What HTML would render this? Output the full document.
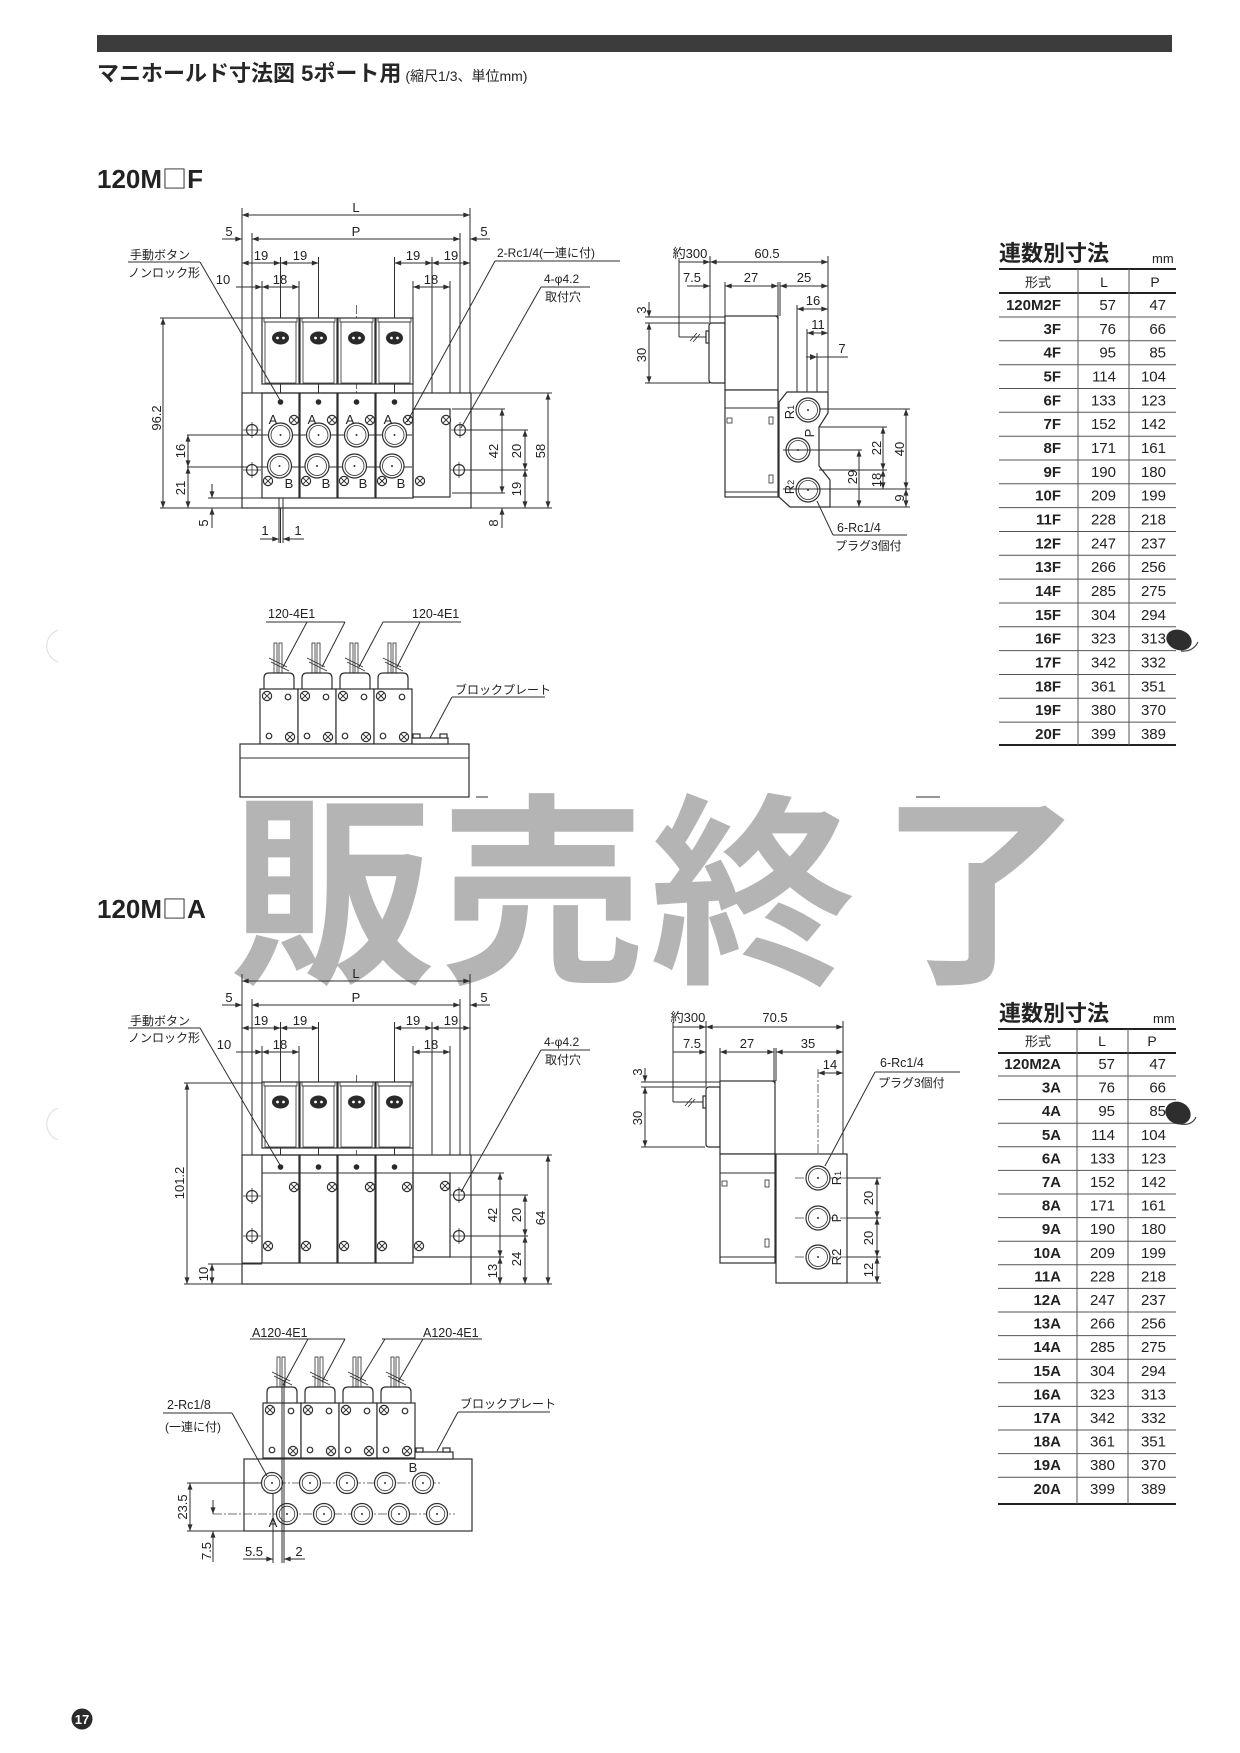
<!DOCTYPE html>
<html><head><meta charset="utf-8">
<style>
html,body{margin:0;padding:0;background:#fff}
svg{display:block}
.l{stroke:#2e2e2e;stroke-width:1;fill:none}
.t{stroke:#2e2e2e;stroke-width:0.8;fill:none}
.m{stroke:#2e2e2e;stroke-width:1;fill:none;marker-start:url(#ar);marker-end:url(#ar)}
.me{stroke:#2e2e2e;stroke-width:1;fill:none;marker-end:url(#ar)}
.s{stroke:#2e2e2e;stroke-width:1.2;fill:#fff}
.sn{stroke:#2e2e2e;stroke-width:1.2;fill:none}
.cl{stroke:#444;stroke-width:0.8;stroke-dasharray:9 2 2 2;fill:none}
.n{font-family:"Liberation Sans",sans-serif;font-size:13px;fill:#222}
.j{font-family:"Liberation Sans","Noto Sans CJK JP",sans-serif;font-size:12px;fill:#222}
.c{text-anchor:middle}
.r{text-anchor:end}
.tb{font-family:"Liberation Sans",sans-serif;font-size:15px;fill:#222}
.tbb{font-family:"Liberation Sans",sans-serif;font-size:15px;font-weight:bold;fill:#222;text-anchor:end}
.rl{stroke:#555;stroke-width:1}
.hl{stroke:#222;stroke-width:2}
.wm{font-family:"Noto Sans CJK JP","Noto Sans CJK SC",sans-serif;font-weight:700;font-size:205px;fill:#b4b4b4}
</style></head><body>
<svg width="1240" height="1753" viewBox="0 0 1240 1753" xmlns="http://www.w3.org/2000/svg">
<defs>
<marker id="ar" viewBox="0 0 8 6" refX="8" refY="3" markerWidth="7" markerHeight="5" markerUnits="userSpaceOnUse" orient="auto-start-reverse"><path d="M0,0L8,3L0,6z" fill="#2e2e2e"/></marker>
<g id="x"><circle r="4.6" class="s"/><path d="M-3.2,-3.2L3.2,3.2M-3.2,3.2L3.2,-3.2" class="l"/></g>
<g id="o"><circle r="2.8" class="s"/></g>
<g id="h"><circle r="5.5" class="s"/><path d="M-9,0H9M0,-8V8" class="t"/></g>
<g id="pa"><circle r="12" class="s"/><circle r="9.5" class="t"/><circle r="1" fill="#333"/></g>
<g id="pb"><circle r="10.5" class="s"/><circle r="7.8" class="t"/><circle r="1" fill="#333"/></g>
<g id="vh">
<rect x="0" y="0" width="37" height="66" class="s"/>
<rect x="2" y="0" width="33" height="4" class="t"/>
<rect x="3" y="4" width="31" height="61" class="t"/>
<ellipse cx="18.5" cy="20" rx="8.5" ry="6.5" fill="#2a2a2a"/>
<circle cx="15.5" cy="20" r="1.4" fill="#fff"/><circle cx="21.5" cy="20" r="1.4" fill="#fff"/>
</g>
<g id="vf">
<rect x="14" y="-46" width="3" height="30" class="t"/>
<rect x="19" y="-46" width="3" height="30" class="t"/>
<path d="M9,-31L27,-22M11,-27L29,-18" class="t"/>
<path d="M4,0V-11Q4,-16 9,-16H29Q34,-16 34,-11V0" class="s"/>
<rect x="0" y="0" width="38" height="55" class="s"/>
<use href="#x" x="7" y="7"/><use href="#o" x="28" y="8"/>
<use href="#o" x="9" y="47"/><use href="#x" x="30" y="48"/>
</g>
</defs>

<path d="M58,630A17,17 0 0 0 58,662" fill="none" stroke="#dedede" stroke-width="1"/>
<path d="M58,1108A17,17 0 0 0 58,1140" fill="none" stroke="#dedede" stroke-width="1"/>

<rect x="97" y="35" width="1075" height="17" fill="#3c3c3c"/>
<text x="97" y="81" style="font-family:'Liberation Sans','Noto Sans CJK JP',sans-serif;font-size:22px;font-weight:bold;fill:#262626">マニホールド寸法図 5ポート用<tspan style="font-size:14px;font-weight:normal" dx="4">(縮尺1/3、単位mm)</tspan></text>
<text x="97" y="188" style="font-family:'Liberation Sans','Noto Sans CJK JP',sans-serif;font-size:26px;font-weight:bold;fill:#222">120M<tspan style="font-family:'Noto Sans CJK JP',sans-serif;font-weight:normal;font-size:25px">□</tspan>F</text>
<text x="97" y="918" style="font-family:'Liberation Sans','Noto Sans CJK JP',sans-serif;font-size:26px;font-weight:bold;fill:#222">120M<tspan style="font-family:'Noto Sans CJK JP',sans-serif;font-weight:normal;font-size:25px">□</tspan>A</text>

<text class="wm" x="230" y="967">販</text>
<text class="wm" x="440" y="967">売</text>
<text class="wm" x="650" y="967">終</text>
<text class="wm" x="878" y="967">了</text>

<g>
<line class="m" x1="242" y1="215" x2="470" y2="215"/>
<text class="n c" x="356" y="212">L</text>
<line class="l" x1="242" y1="208" x2="242" y2="393"/>
<line class="l" x1="470" y1="208" x2="470" y2="393"/>
<line class="m" x1="252" y1="239" x2="460" y2="239"/>
<text class="n c" x="356" y="236">P</text>
<line class="me" x1="222" y1="239" x2="242" y2="239"/>
<line class="me" x1="490" y1="239" x2="470" y2="239"/>
<text class="n c" x="229" y="236">5</text>
<text class="n c" x="484" y="236">5</text>
<line class="l" x1="252" y1="233" x2="252" y2="478"/>
<line class="l" x1="460" y1="233" x2="460" y2="478"/>
<line class="m" x1="242" y1="263" x2="280.5" y2="263"/>
<line class="m" x1="280.5" y1="263" x2="318.5" y2="263"/>
<line class="m" x1="394.5" y1="263" x2="432" y2="263"/>
<line class="m" x1="432" y1="263" x2="470" y2="263"/>
<text class="n c" x="261" y="260">19</text><text class="n c" x="300" y="260">19</text>
<text class="n c" x="413" y="260">19</text><text class="n c" x="451" y="260">19</text>
<line class="l" x1="280.5" y1="257" x2="280.5" y2="543"/>
<line class="l" x1="318.5" y1="257" x2="318.5" y2="505"/>
<line class="cl" x1="356.5" y1="305" x2="356.5" y2="505"/>
<line class="l" x1="394.5" y1="257" x2="394.5" y2="505"/>
<line class="l" x1="432" y1="257" x2="432" y2="497"/>
<line class="m" x1="262" y1="287" x2="299" y2="287"/>
<text class="n c" x="280" y="284">18</text>
<line class="me" x1="236" y1="287" x2="262" y2="287"/>
<text class="n c" x="223" y="284">10</text>
<line class="m" x1="413" y1="287" x2="450" y2="287"/>
<text class="n c" x="431" y="284">18</text>
<line class="l" x1="262" y1="281" x2="262" y2="318"/>
<line class="l" x1="299" y1="281" x2="299" y2="318"/>
<line class="l" x1="413" y1="281" x2="413" y2="409"/>
<line class="l" x1="450" y1="281" x2="450" y2="409"/>
<use href="#vh" x="262" y="318"/><use href="#vh" x="300" y="318"/>
<use href="#vh" x="338" y="318"/><use href="#vh" x="376" y="318"/>
<rect x="242" y="393" width="229" height="115" class="s"/>
<rect x="262" y="393" width="37" height="105" class="sn"/>
<rect x="300" y="393" width="37" height="105" class="sn"/>
<rect x="338" y="393" width="37" height="105" class="sn"/>
<rect x="376" y="393" width="37" height="105" class="sn"/>
<line class="l" x1="242" y1="498" x2="262" y2="498"/>
<rect x="413" y="409" width="37" height="88" class="sn"/>
<line class="l" x1="187" y1="435" x2="412" y2="435"/>
<line class="l" x1="187" y1="467" x2="412" y2="467"/>
<use href="#pa" x="280.5" y="435"/><use href="#pa" x="318.5" y="435"/><use href="#pa" x="356.5" y="435"/><use href="#pa" x="394.5" y="435"/>
<use href="#pa" x="279.5" y="466"/><use href="#pa" x="317" y="466"/><use href="#pa" x="354.5" y="466"/><use href="#pa" x="392" y="466"/>
<text class="n c" x="273" y="424">A</text><text class="n c" x="312" y="424">A</text><text class="n c" x="350" y="424">A</text><text class="n c" x="388" y="424">A</text>
<text class="n c" x="289" y="488">B</text><text class="n c" x="326" y="488">B</text><text class="n c" x="363" y="488">B</text><text class="n c" x="401" y="488">B</text>
<use href="#x" x="294" y="420"/><use href="#x" x="332" y="420"/><use href="#x" x="370" y="420"/><use href="#x" x="408" y="420"/><use href="#x" x="446" y="420"/>
<use href="#x" x="268" y="481"/><use href="#x" x="306" y="481"/><use href="#x" x="344" y="481"/><use href="#x" x="382" y="481"/><use href="#x" x="420" y="481"/>
<circle cx="280.5" cy="402" r="2.8" fill="#2a2a2a"/><circle cx="318.5" cy="402" r="2.8" fill="#2a2a2a"/><circle cx="356.5" cy="402" r="2.8" fill="#2a2a2a"/><circle cx="394.5" cy="402" r="2.8" fill="#2a2a2a"/>
<use href="#h" x="252" y="430"/><use href="#h" x="252" y="470"/><use href="#h" x="460" y="430"/><use href="#h" x="459" y="470"/>
<line class="l" x1="160" y1="318" x2="262" y2="318"/>
<line class="l" x1="160" y1="508" x2="242" y2="508"/>
<line class="m" x1="163" y1="318" x2="163" y2="508"/>
<text class="n c" transform="translate(161,418) rotate(-90)">96.2</text>
<line class="m" x1="188" y1="435" x2="188" y2="467"/>
<text class="n c" transform="translate(185,451) rotate(-90)">16</text>
<line class="m" x1="188" y1="467" x2="188" y2="508"/>
<text class="n c" transform="translate(185,488) rotate(-90)">21</text>
<line class="l" x1="208" y1="498" x2="242" y2="498"/>
<line class="me" x1="212" y1="484" x2="212" y2="498"/>
<line class="me" x1="212" y1="528" x2="212" y2="508"/>
<text class="n c" transform="translate(208,523) rotate(-90)">5</text>
<line class="l" x1="279" y1="498" x2="279" y2="543"/>
<line class="l" x1="283" y1="498" x2="283" y2="543"/>
<line class="me" x1="260" y1="539" x2="279" y2="539"/>
<line class="me" x1="304" y1="539" x2="283" y2="539"/>
<text class="n c" x="265" y="535">1</text><text class="n c" x="298" y="535">1</text>
<line class="l" x1="452" y1="409" x2="505" y2="409"/>
<line class="l" x1="466" y1="430" x2="528" y2="430"/>
<line class="l" x1="465" y1="470" x2="528" y2="470"/>
<line class="l" x1="452" y1="493" x2="505" y2="493"/>
<line class="l" x1="471" y1="393" x2="552" y2="393"/>
<line class="l" x1="471" y1="508" x2="552" y2="508"/>
<line class="m" x1="502" y1="409" x2="502" y2="493"/>
<text class="n c" transform="translate(498,451) rotate(-90)">42</text>
<line class="m" x1="525" y1="430" x2="525" y2="470"/>
<text class="n c" transform="translate(521,451) rotate(-90)">20</text>
<line class="m" x1="525" y1="470" x2="525" y2="508"/>
<text class="n c" transform="translate(521,489) rotate(-90)">19</text>
<line class="m" x1="548" y1="393" x2="548" y2="508"/>
<text class="n c" transform="translate(545,451) rotate(-90)">58</text>
<line class="me" x1="502" y1="528" x2="502" y2="508"/>
<text class="n c" transform="translate(498,523) rotate(-90)">8</text>
<text class="j" x="130" y="259">手動ボタン</text>
<line class="l" x1="128" y1="262" x2="200" y2="262"/>
<text class="j" x="128" y="277">ノンロック形</text>
<line class="l" x1="200" y1="262" x2="280" y2="400"/>
<text class="j" x="497" y="257">2-Rc1/4(一連に付)</text>
<line class="l" x1="495" y1="261" x2="620" y2="261"/>
<line class="l" x1="495" y1="261" x2="407" y2="422"/>
<text class="j" x="544" y="283">4-φ4.2</text>
<line class="l" x1="541" y1="287" x2="590" y2="287"/>
<text class="j" x="545" y="301">取付穴</text>
<line class="l" x1="541" y1="287" x2="461" y2="428"/>
</g>

<g>
<line class="me" x1="679" y1="262" x2="710" y2="262"/>
<line class="m" x1="710" y1="262" x2="828" y2="262"/>
<text class="j c" x="690" y="258" style="font-size:13px">約300</text>
<text class="n c" x="767" y="258">60.5</text>
<line class="l" x1="679" y1="258" x2="679" y2="337"/>
<line class="l" x1="679" y1="337" x2="707" y2="337"/>
<path d="M690,341L697,333M693,342L700,334" class="t"/>
<rect x="706" y="331" width="3" height="12" class="s"/>
<line class="l" x1="710" y1="256" x2="710" y2="323"/>
<line class="l" x1="828" y1="256" x2="828" y2="392"/>
<line class="me" x1="687" y1="286" x2="710" y2="286"/>
<text class="n c" x="692" y="282">7.5</text>
<line class="m" x1="725" y1="286" x2="778" y2="286"/>
<text class="n c" x="751" y="282">27</text>
<line class="m" x1="780" y1="286" x2="828" y2="286"/>
<text class="n c" x="804" y="282">25</text>
<line class="l" x1="725" y1="282" x2="725" y2="316"/>
<line class="l" x1="778" y1="282" x2="778" y2="316"/>
<line class="l" x1="780" y1="282" x2="780" y2="316"/>
<line class="m" x1="797" y1="309" x2="828" y2="309"/>
<text class="n c" x="813" y="305">16</text>
<line class="l" x1="797" y1="305" x2="797" y2="393"/>
<line class="m" x1="807" y1="333" x2="828" y2="333"/>
<text class="n c" x="818" y="329">11</text>
<line class="l" x1="807" y1="329" x2="807" y2="393"/>
<line class="l" x1="806" y1="357" x2="848" y2="357"/>
<path d="M810,354L817,357L810,360z" fill="#333"/>
<text class="n c" x="842" y="353">7</text>
<line class="l" x1="817" y1="353" x2="817" y2="397"/>
<line class="l" x1="645" y1="317" x2="725" y2="317"/>
<line class="l" x1="645" y1="323" x2="709" y2="323"/>
<line class="l" x1="645" y1="383" x2="710" y2="383"/>
<line class="me" x1="649" y1="302" x2="649" y2="317"/>
<line class="m" x1="649" y1="323" x2="649" y2="383"/>
<text class="n c" transform="translate(646,310) rotate(-90)">3</text>
<text class="n c" transform="translate(646,355) rotate(-90)">30</text>
<path d="M709,326Q709,323 712,323H725V383H712Q709,383 709,380Z" class="s"/>
<rect x="725" y="316" width="53" height="74" class="s"/>
<path d="M774,316Q778,316 778,320" class="t"/>
<rect x="725" y="390" width="53" height="107" class="s"/>
<line class="l" x1="725" y1="408" x2="778" y2="408"/>
<line class="l" x1="725" y1="492" x2="778" y2="492"/>
<rect x="727" y="418" width="5" height="5" class="t"/>
<rect x="769" y="417" width="4" height="7" class="t"/>
<rect x="769" y="475" width="4" height="8" class="t"/>
<path d="M787,392H828V413L819,427V466L830,480V507H790L779,497V402Z" class="s"/>
<use href="#pa" x="808" y="410"/><use href="#pa" x="798" y="450"/><use href="#pa" x="808" y="490"/>
<text class="n c" transform="translate(794,412) rotate(-90)">R<tspan style="font-size:9px">1</tspan></text>
<text class="n c" transform="translate(814,433) rotate(-90)">P</text>
<text class="n c" transform="translate(794,487) rotate(-90)">R<tspan style="font-size:9px">2</tspan></text>
<line class="l" x1="819" y1="409" x2="910" y2="409"/>
<line class="l" x1="819" y1="427" x2="887" y2="427"/>
<line class="l" x1="783" y1="450" x2="862" y2="450"/>
<line class="l" x1="819" y1="470" x2="887" y2="470"/>
<line class="l" x1="783" y1="489" x2="910" y2="489"/>
<line class="l" x1="830" y1="507" x2="910" y2="507"/>
<line class="m" x1="906" y1="409" x2="906" y2="489"/>
<text class="n c" transform="translate(904,449) rotate(-90)">40</text>
<line class="m" x1="906" y1="489" x2="906" y2="507"/>
<text class="n c" transform="translate(904,498) rotate(-90)">9</text>
<line class="m" x1="883" y1="427" x2="883" y2="470"/>
<text class="n c" transform="translate(881,448) rotate(-90)">22</text>
<line class="m" x1="883" y1="470" x2="883" y2="489"/>
<text class="n c" transform="translate(881,480) rotate(-90)">18</text>
<line class="m" x1="859" y1="450" x2="859" y2="507"/>
<text class="n c" transform="translate(857,477) rotate(-90)">29</text>
<text class="j" x="837" y="532" style="font-size:12.5px">6-Rc1/4</text>
<line class="l" x1="833" y1="535" x2="907" y2="535"/>
<text class="j" x="835" y="550">プラグ3個付</text>
<line class="l" x1="833" y1="535" x2="817" y2="501"/>
</g>

<g>
<use href="#vf" x="260" y="689"/><use href="#vf" x="298" y="689"/>
<use href="#vf" x="336" y="689"/><use href="#vf" x="374" y="689"/>
<rect x="240" y="744" width="229" height="53" class="s"/>
<line class="l" x1="240" y1="758" x2="469" y2="758"/>
<rect x="412" y="738" width="36" height="6" class="s"/>
<rect x="413" y="734" width="7" height="4" class="s"/>
<rect x="440" y="734" width="7" height="4" class="s"/>
<text class="j" x="268" y="618" style="font-size:12.5px">120-4E1</text>
<line class="l" x1="266" y1="622" x2="345" y2="622"/>
<line class="l" x1="307" y1="622" x2="283" y2="667"/>
<line class="l" x1="345" y1="622" x2="322" y2="667"/>
<text class="j" x="412" y="618" style="font-size:12.5px">120-4E1</text>
<line class="l" x1="383" y1="622" x2="461" y2="622"/>
<line class="l" x1="383" y1="622" x2="359" y2="667"/>
<line class="l" x1="420" y1="622" x2="397" y2="667"/>
<text class="j" x="455" y="694">ブロックプレート</text>
<line class="l" x1="452" y1="697" x2="545" y2="697"/>
<line class="l" x1="452" y1="697" x2="430" y2="738"/>
<line class="l" x1="476" y1="797" x2="488" y2="797"/>
<line class="l" x1="916" y1="797" x2="940" y2="797"/>
</g>

<g>
<line class="m" x1="242" y1="981" x2="470" y2="981"/>
<text class="n c" x="356" y="978">L</text>
<line class="l" x1="242" y1="974" x2="242" y2="1155"/>
<line class="l" x1="470" y1="974" x2="470" y2="1155"/>
<line class="m" x1="252" y1="1005" x2="460" y2="1005"/>
<text class="n c" x="356" y="1002">P</text>
<line class="me" x1="222" y1="1005" x2="242" y2="1005"/>
<line class="me" x1="490" y1="1005" x2="470" y2="1005"/>
<text class="n c" x="229" y="1002">5</text>
<text class="n c" x="484" y="1002">5</text>
<line class="l" x1="252" y1="999" x2="252" y2="1242"/>
<line class="l" x1="460" y1="999" x2="460" y2="1242"/>
<line class="m" x1="242" y1="1028" x2="280.5" y2="1028"/>
<line class="m" x1="280.5" y1="1028" x2="318.5" y2="1028"/>
<line class="m" x1="394.5" y1="1028" x2="432" y2="1028"/>
<line class="m" x1="432" y1="1028" x2="470" y2="1028"/>
<text class="n c" x="261" y="1025">19</text><text class="n c" x="300" y="1025">19</text>
<text class="n c" x="413" y="1025">19</text><text class="n c" x="451" y="1025">19</text>
<line class="l" x1="280.5" y1="1022" x2="280.5" y2="1270"/>
<line class="l" x1="318.5" y1="1022" x2="318.5" y2="1270"/>
<line class="cl" x1="356.5" y1="1075" x2="356.5" y2="1270"/>
<line class="l" x1="394.5" y1="1022" x2="394.5" y2="1270"/>
<line class="l" x1="432" y1="1022" x2="432" y2="1263"/>
<line class="m" x1="262" y1="1052" x2="299" y2="1052"/>
<text class="n c" x="280" y="1049">18</text>
<line class="me" x1="236" y1="1052" x2="262" y2="1052"/>
<text class="n c" x="224" y="1049">10</text>
<line class="m" x1="413" y1="1052" x2="450" y2="1052"/>
<text class="n c" x="431" y="1049">18</text>
<line class="l" x1="262" y1="1046" x2="262" y2="1082"/>
<line class="l" x1="299" y1="1046" x2="299" y2="1082"/>
<line class="l" x1="413" y1="1046" x2="413" y2="1173"/>
<line class="l" x1="450" y1="1046" x2="450" y2="1173"/>
<use href="#vh" x="262" y="1082"/><use href="#vh" x="300" y="1082"/>
<use href="#vh" x="338" y="1082"/><use href="#vh" x="376" y="1082"/>
<rect x="242" y="1155" width="229" height="129" class="s"/>
<rect x="262" y="1155" width="37" height="108" class="sn"/>
<rect x="300" y="1155" width="37" height="108" class="sn"/>
<rect x="338" y="1155" width="37" height="108" class="sn"/>
<rect x="376" y="1155" width="37" height="108" class="sn"/>
<line class="l" x1="262" y1="1173" x2="413" y2="1173"/>
<rect x="413" y="1173" width="37" height="84" class="sn"/>
<line class="l" x1="242" y1="1263" x2="262" y2="1263"/>
<circle cx="280.5" cy="1167" r="2.8" fill="#2a2a2a"/><circle cx="318.5" cy="1167" r="2.8" fill="#2a2a2a"/><circle cx="356.5" cy="1167" r="2.8" fill="#2a2a2a"/><circle cx="394.5" cy="1167" r="2.8" fill="#2a2a2a"/>
<use href="#x" x="294" y="1187"/><use href="#x" x="332" y="1187"/><use href="#x" x="370" y="1187"/><use href="#x" x="407" y="1187"/><use href="#x" x="445" y="1186"/>
<use href="#x" x="268" y="1246"/><use href="#x" x="306" y="1246"/><use href="#x" x="344" y="1246"/><use href="#x" x="382" y="1246"/><use href="#x" x="419" y="1246"/>
<use href="#h" x="252" y="1196"/><use href="#h" x="252" y="1236"/><use href="#h" x="459" y="1195"/><use href="#h" x="459" y="1236"/>
<line class="l" x1="184" y1="1083" x2="262" y2="1083"/>
<line class="l" x1="184" y1="1284" x2="242" y2="1284"/>
<line class="l" x1="208" y1="1264" x2="262" y2="1264"/>
<line class="m" x1="187" y1="1083" x2="187" y2="1284"/>
<text class="n c" transform="translate(184,1183) rotate(-90)">101.2</text>
<line class="m" x1="212" y1="1264" x2="212" y2="1284"/>
<text class="n c" transform="translate(208,1274) rotate(-90)">10</text>
<line class="l" x1="450" y1="1173" x2="504" y2="1173"/>
<line class="l" x1="465" y1="1195" x2="528" y2="1195"/>
<line class="l" x1="465" y1="1236" x2="528" y2="1236"/>
<line class="l" x1="450" y1="1257" x2="504" y2="1257"/>
<line class="l" x1="471" y1="1155" x2="552" y2="1155"/>
<line class="l" x1="471" y1="1284" x2="552" y2="1284"/>
<line class="m" x1="500" y1="1173" x2="500" y2="1257"/>
<text class="n c" transform="translate(497,1215) rotate(-90)">42</text>
<line class="m" x1="500" y1="1257" x2="500" y2="1284"/>
<text class="n c" transform="translate(497,1271) rotate(-90)">13</text>
<line class="m" x1="525" y1="1195" x2="525" y2="1236"/>
<text class="n c" transform="translate(521,1215) rotate(-90)">20</text>
<line class="m" x1="525" y1="1236" x2="525" y2="1284"/>
<text class="n c" transform="translate(521,1259) rotate(-90)">24</text>
<line class="m" x1="548" y1="1155" x2="548" y2="1284"/>
<text class="n c" transform="translate(545,1218) rotate(-90)">64</text>
<text class="j" x="130" y="1025">手動ボタン</text>
<line class="l" x1="128" y1="1028" x2="200" y2="1028"/>
<text class="j" x="128" y="1042">ノンロック形</text>
<line class="l" x1="200" y1="1028" x2="280" y2="1165"/>
<text class="j" x="544" y="1046">4-φ4.2</text>
<line class="l" x1="541" y1="1050" x2="590" y2="1050"/>
<text class="j" x="545" y="1064">取付穴</text>
<line class="l" x1="541" y1="1050" x2="461" y2="1192"/>
</g>

<g>
<line class="me" x1="673" y1="1027" x2="706" y2="1027"/>
<line class="m" x1="706" y1="1027" x2="843" y2="1027"/>
<text class="j c" x="688" y="1022" style="font-size:13px">約300</text>
<text class="n c" x="775" y="1022">70.5</text>
<line class="l" x1="673" y1="1022" x2="673" y2="1102"/>
<line class="l" x1="673" y1="1102" x2="704" y2="1102"/>
<path d="M685,1106L692,1098M688,1107L695,1099" class="t"/>
<rect x="703" y="1096" width="3" height="12" class="s"/>
<line class="l" x1="706" y1="1021" x2="706" y2="1087"/>
<line class="l" x1="843" y1="1021" x2="843" y2="1154"/>
<line class="me" x1="673" y1="1052" x2="706" y2="1052"/>
<text class="n c" x="692" y="1048">7.5</text>
<line class="m" x1="720" y1="1052" x2="774" y2="1052"/>
<text class="n c" x="747" y="1048">27</text>
<line class="m" x1="776" y1="1052" x2="843" y2="1052"/>
<text class="n c" x="808" y="1048">35</text>
<line class="l" x1="720" y1="1048" x2="720" y2="1081"/>
<line class="l" x1="774" y1="1048" x2="774" y2="1081"/>
<line class="l" x1="776" y1="1048" x2="776" y2="1081"/>
<line class="m" x1="818" y1="1073" x2="843" y2="1073"/>
<text class="n c" x="830" y="1069">14</text>
<line class="cl" x1="818" y1="1069" x2="818" y2="1278"/>
<line class="l" x1="641" y1="1082" x2="720" y2="1082"/>
<line class="l" x1="641" y1="1087" x2="706" y2="1087"/>
<line class="l" x1="641" y1="1147" x2="705" y2="1147"/>
<line class="me" x1="645" y1="1068" x2="645" y2="1082"/>
<line class="m" x1="645" y1="1087" x2="645" y2="1147"/>
<text class="n c" transform="translate(642,1072) rotate(-90)">3</text>
<text class="n c" transform="translate(642,1118) rotate(-90)">30</text>
<path d="M706,1090Q706,1087 709,1087H720V1147H709Q706,1147 706,1144Z" class="s"/>
<rect x="720" y="1081" width="55" height="73" class="s"/>
<path d="M771,1081Q775,1081 775,1085" class="t"/>
<rect x="720" y="1154" width="55" height="109" class="s"/>
<line class="l" x1="720" y1="1173" x2="775" y2="1173"/>
<line class="l" x1="720" y1="1257" x2="775" y2="1257"/>
<rect x="722" y="1181" width="5" height="5" class="t"/>
<rect x="765" y="1180" width="4" height="7" class="t"/>
<rect x="765" y="1239" width="4" height="8" class="t"/>
<rect x="776" y="1154" width="71" height="129" class="s"/>
<line class="cl" x1="795" y1="1178" x2="847" y2="1178"/>
<line class="cl" x1="795" y1="1218" x2="847" y2="1218"/>
<line class="cl" x1="795" y1="1257" x2="847" y2="1257"/>
<use href="#pa" x="818" y="1178"/><use href="#pa" x="818" y="1218"/><use href="#pa" x="818" y="1257"/>
<text class="n c" transform="translate(841,1178) rotate(-90)">R<tspan style="font-size:9px">1</tspan></text>
<text class="n c" transform="translate(841,1218) rotate(-90)">P</text>
<text class="n c" transform="translate(841,1257) rotate(-90)">R2</text>
<line class="l" x1="847" y1="1178" x2="881" y2="1178"/>
<line class="l" x1="847" y1="1218" x2="881" y2="1218"/>
<line class="l" x1="847" y1="1257" x2="881" y2="1257"/>
<line class="l" x1="847" y1="1283" x2="881" y2="1283"/>
<line class="m" x1="877" y1="1178" x2="877" y2="1218"/>
<text class="n c" transform="translate(873,1198) rotate(-90)">20</text>
<line class="m" x1="877" y1="1218" x2="877" y2="1257"/>
<text class="n c" transform="translate(873,1238) rotate(-90)">20</text>
<line class="m" x1="877" y1="1257" x2="877" y2="1283"/>
<text class="n c" transform="translate(873,1270) rotate(-90)">12</text>
<text class="j" x="880" y="1067" style="font-size:12.5px">6-Rc1/4</text>
<line class="l" x1="875" y1="1072" x2="960" y2="1072"/>
<text class="j" x="878" y="1087">プラグ3個付</text>
<line class="l" x1="875" y1="1072" x2="825" y2="1166"/>
</g>

<g>
<use href="#vf" x="263" y="1403"/><use href="#vf" x="301" y="1403"/>
<use href="#vf" x="339" y="1403"/><use href="#vf" x="377" y="1403"/>
<rect x="244" y="1459" width="228" height="72" class="s"/>
<rect x="415" y="1452" width="38" height="7" class="s"/>
<rect x="416" y="1448" width="7" height="4" class="s"/>
<rect x="443" y="1448" width="7" height="4" class="s"/>
<line class="cl" x1="262" y1="1483" x2="440" y2="1483"/>
<line class="cl" x1="213" y1="1514" x2="455" y2="1514"/>
<use href="#pb" x="272" y="1483"/><use href="#pb" x="310" y="1483"/><use href="#pb" x="347" y="1483"/><use href="#pb" x="385" y="1483"/><use href="#pb" x="423" y="1483"/>
<use href="#pb" x="287" y="1514"/><use href="#pb" x="324" y="1514"/><use href="#pb" x="362" y="1514"/><use href="#pb" x="399" y="1514"/><use href="#pb" x="437" y="1514"/>
<text class="n c" x="413" y="1472">B</text>
<text class="n c" x="273" y="1527">A</text>
<text class="j" x="252" y="1337" style="font-size:12.5px">A120-4E1</text>
<line class="l" x1="250" y1="1339" x2="345" y2="1339"/>
<line class="l" x1="308" y1="1339" x2="283" y2="1385"/>
<line class="l" x1="345" y1="1339" x2="322" y2="1382"/>
<text class="j" x="423" y="1337" style="font-size:12.5px">A120-4E1</text>
<line class="l" x1="382" y1="1339" x2="482" y2="1339"/>
<line class="l" x1="385" y1="1339" x2="360" y2="1380"/>
<line class="l" x1="423" y1="1339" x2="398" y2="1382"/>
<text class="j" x="460" y="1408">ブロックプレート</text>
<line class="l" x1="458" y1="1412" x2="550" y2="1412"/>
<line class="l" x1="458" y1="1412" x2="437" y2="1451"/>
<text class="j" x="167" y="1409" style="font-size:12.5px">2-Rc1/8</text>
<line class="l" x1="163" y1="1413" x2="232" y2="1413"/>
<text class="j" x="165" y="1431">(一連に付)</text>
<line class="l" x1="232" y1="1413" x2="267" y2="1476"/>
<line class="l" x1="187" y1="1483" x2="262" y2="1483"/>
<line class="l" x1="187" y1="1531" x2="244" y2="1531"/>
<line class="m" x1="190" y1="1483" x2="190" y2="1531"/>
<text class="n c" transform="translate(187,1507) rotate(-90)">23.5</text>
<line class="me" x1="213" y1="1500" x2="213" y2="1514"/>
<line class="me" x1="213" y1="1562" x2="213" y2="1531"/>
<text class="n c" transform="translate(211,1551) rotate(-90)">7.5</text>
<line class="l" x1="273" y1="1494" x2="273" y2="1563"/>
<line class="l" x1="282" y1="1380" x2="282" y2="1563"/>
<line class="l" x1="284" y1="1380" x2="284" y2="1563"/>
<line class="me" x1="243" y1="1559" x2="273" y2="1559"/>
<line class="me" x1="305" y1="1559" x2="284" y2="1559"/>
<text class="n c" x="254" y="1556">5.5</text>
<text class="n c" x="299" y="1556">2</text>
</g>

<g>
<text x="999" y="261" style="font-family:'Noto Sans CJK JP',sans-serif;font-size:22px;font-weight:700;fill:#222">連数別寸法</text>
<text x="1152" y="263" style="font-family:'Liberation Sans',sans-serif;font-size:13px;fill:#222">mm</text>
<line class="hl" x1="999" y1="269" x2="1176" y2="269"/>
<line class="hl" x1="999" y1="293" x2="1176" y2="293"/>
<line class="hl" x1="999" y1="745" x2="1176" y2="745"/>
<line class="rl" x1="1078" y1="269" x2="1078" y2="745"/>
<line class="rl" x1="1129" y1="269" x2="1129" y2="745"/>
<text class="j c" x="1038" y="287" style="font-size:13px">形式</text>
<text class="tb c" x="1104" y="287" style="font-size:14px">L</text>
<text class="tb c" x="1155" y="287" style="font-size:14px">P</text>
<g class="rl">
<line x1="999" y1="317" x2="1176" y2="317"/><line x1="999" y1="340.8" x2="1176" y2="340.8"/><line x1="999" y1="364.7" x2="1176" y2="364.7"/><line x1="999" y1="388.5" x2="1176" y2="388.5"/><line x1="999" y1="412.3" x2="1176" y2="412.3"/><line x1="999" y1="436.2" x2="1176" y2="436.2"/><line x1="999" y1="460" x2="1176" y2="460"/><line x1="999" y1="483.8" x2="1176" y2="483.8"/><line x1="999" y1="507.6" x2="1176" y2="507.6"/><line x1="999" y1="531.5" x2="1176" y2="531.5"/><line x1="999" y1="555.3" x2="1176" y2="555.3"/><line x1="999" y1="579.1" x2="1176" y2="579.1"/><line x1="999" y1="603" x2="1176" y2="603"/><line x1="999" y1="626.8" x2="1176" y2="626.8"/><line x1="999" y1="650.6" x2="1176" y2="650.6"/><line x1="999" y1="674.5" x2="1176" y2="674.5"/><line x1="999" y1="698.3" x2="1176" y2="698.3"/><line x1="999" y1="722.1" x2="1176" y2="722.1"/>
</g>
<g class="tbb">
<text x="1061" y="310">120M2F</text><text x="1061" y="333.8">3F</text><text x="1061" y="357.7">4F</text><text x="1061" y="381.5">5F</text><text x="1061" y="405.3">6F</text><text x="1061" y="429.2">7F</text><text x="1061" y="453">8F</text><text x="1061" y="476.8">9F</text><text x="1061" y="500.6">10F</text><text x="1061" y="524.5">11F</text><text x="1061" y="548.3">12F</text><text x="1061" y="572.1">13F</text><text x="1061" y="596">14F</text><text x="1061" y="619.8">15F</text><text x="1061" y="643.6">16F</text><text x="1061" y="667.5">17F</text><text x="1061" y="691.3">18F</text><text x="1061" y="715.1">19F</text><text x="1061" y="738.9">20F</text>
</g>
<g class="tb r">
<text x="1116" y="310">57</text><text x="1116" y="333.8">76</text><text x="1116" y="357.7">95</text><text x="1116" y="381.5">114</text><text x="1116" y="405.3">133</text><text x="1116" y="429.2">152</text><text x="1116" y="453">171</text><text x="1116" y="476.8">190</text><text x="1116" y="500.6">209</text><text x="1116" y="524.5">228</text><text x="1116" y="548.3">247</text><text x="1116" y="572.1">266</text><text x="1116" y="596">285</text><text x="1116" y="619.8">304</text><text x="1116" y="643.6">323</text><text x="1116" y="667.5">342</text><text x="1116" y="691.3">361</text><text x="1116" y="715.1">380</text><text x="1116" y="738.9">399</text>
<text x="1166" y="310">47</text><text x="1166" y="333.8">66</text><text x="1166" y="357.7">85</text><text x="1166" y="381.5">104</text><text x="1166" y="405.3">123</text><text x="1166" y="429.2">142</text><text x="1166" y="453">161</text><text x="1166" y="476.8">180</text><text x="1166" y="500.6">199</text><text x="1166" y="524.5">218</text><text x="1166" y="548.3">237</text><text x="1166" y="572.1">256</text><text x="1166" y="596">275</text><text x="1166" y="619.8">294</text><text x="1166" y="643.6">313</text><text x="1166" y="667.5">332</text><text x="1166" y="691.3">351</text><text x="1166" y="715.1">370</text><text x="1166" y="738.9">389</text>
</g>
<ellipse cx="1179" cy="640" rx="13" ry="10" fill="#2e2e2e" transform="rotate(20 1179 640)"/>
<path d="M1181,651Q1193,652 1198,642" stroke="#444" stroke-width="1.2" fill="none"/>
</g>

<g>
<text x="999" y="1021" style="font-family:'Noto Sans CJK JP',sans-serif;font-size:22px;font-weight:700;fill:#222">連数別寸法</text>
<text x="1153" y="1023" style="font-family:'Liberation Sans',sans-serif;font-size:13px;fill:#222">mm</text>
<line class="hl" x1="998" y1="1029" x2="1176" y2="1029"/>
<line class="hl" x1="998" y1="1053" x2="1176" y2="1053"/>
<line class="hl" x1="998" y1="1504" x2="1176" y2="1504"/>
<line class="rl" x1="1077" y1="1029" x2="1077" y2="1504"/>
<line class="rl" x1="1128" y1="1029" x2="1128" y2="1504"/>
<text class="j c" x="1038" y="1046" style="font-size:13px">形式</text>
<text class="tb c" x="1102" y="1046" style="font-size:14px">L</text>
<text class="tb c" x="1152" y="1046" style="font-size:14px">P</text>
<g class="rl">
<line x1="998" y1="1076" x2="1176" y2="1076"/><line x1="998" y1="1099.6" x2="1176" y2="1099.6"/><line x1="998" y1="1123.2" x2="1176" y2="1123.2"/><line x1="998" y1="1146.8" x2="1176" y2="1146.8"/><line x1="998" y1="1170.4" x2="1176" y2="1170.4"/><line x1="998" y1="1194" x2="1176" y2="1194"/><line x1="998" y1="1217.6" x2="1176" y2="1217.6"/><line x1="998" y1="1241.2" x2="1176" y2="1241.2"/><line x1="998" y1="1264.8" x2="1176" y2="1264.8"/><line x1="998" y1="1288.4" x2="1176" y2="1288.4"/><line x1="998" y1="1312" x2="1176" y2="1312"/><line x1="998" y1="1335.6" x2="1176" y2="1335.6"/><line x1="998" y1="1359.2" x2="1176" y2="1359.2"/><line x1="998" y1="1382.8" x2="1176" y2="1382.8"/><line x1="998" y1="1406.4" x2="1176" y2="1406.4"/><line x1="998" y1="1430" x2="1176" y2="1430"/><line x1="998" y1="1453.6" x2="1176" y2="1453.6"/><line x1="998" y1="1477.2" x2="1176" y2="1477.2"/>
</g>
<g class="tbb">
<text x="1061" y="1069">120M2A</text><text x="1061" y="1092.6">3A</text><text x="1061" y="1116.2">4A</text><text x="1061" y="1139.8">5A</text><text x="1061" y="1163.4">6A</text><text x="1061" y="1187">7A</text><text x="1061" y="1210.6">8A</text><text x="1061" y="1234.2">9A</text><text x="1061" y="1257.8">10A</text><text x="1061" y="1281.4">11A</text><text x="1061" y="1305">12A</text><text x="1061" y="1328.6">13A</text><text x="1061" y="1352.2">14A</text><text x="1061" y="1375.8">15A</text><text x="1061" y="1399.4">16A</text><text x="1061" y="1423">17A</text><text x="1061" y="1446.6">18A</text><text x="1061" y="1470.2">19A</text><text x="1061" y="1493.8">20A</text>
</g>
<g class="tb r">
<text x="1115" y="1069">57</text><text x="1115" y="1092.6">76</text><text x="1115" y="1116.2">95</text><text x="1115" y="1139.8">114</text><text x="1115" y="1163.4">133</text><text x="1115" y="1187">152</text><text x="1115" y="1210.6">171</text><text x="1115" y="1234.2">190</text><text x="1115" y="1257.8">209</text><text x="1115" y="1281.4">228</text><text x="1115" y="1305">247</text><text x="1115" y="1328.6">266</text><text x="1115" y="1352.2">285</text><text x="1115" y="1375.8">304</text><text x="1115" y="1399.4">323</text><text x="1115" y="1423">342</text><text x="1115" y="1446.6">361</text><text x="1115" y="1470.2">380</text><text x="1115" y="1493.8">399</text>
<text x="1166" y="1069">47</text><text x="1166" y="1092.6">66</text><text x="1166" y="1116.2">85</text><text x="1166" y="1139.8">104</text><text x="1166" y="1163.4">123</text><text x="1166" y="1187">142</text><text x="1166" y="1210.6">161</text><text x="1166" y="1234.2">180</text><text x="1166" y="1257.8">199</text><text x="1166" y="1281.4">218</text><text x="1166" y="1305">237</text><text x="1166" y="1328.6">256</text><text x="1166" y="1352.2">275</text><text x="1166" y="1375.8">294</text><text x="1166" y="1399.4">313</text><text x="1166" y="1423">332</text><text x="1166" y="1446.6">351</text><text x="1166" y="1470.2">370</text><text x="1166" y="1493.8">389</text>
</g>
<ellipse cx="1178" cy="1113" rx="13" ry="11" fill="#2e2e2e" transform="rotate(25 1178 1113)"/>
<path d="M1180,1124Q1192,1126 1196,1117" stroke="#444" stroke-width="1.2" fill="none"/>
</g>

<circle cx="82" cy="1719" r="10.5" fill="#2a2a2a"/>
<text x="82" y="1724" text-anchor="middle" style="font-family:'Liberation Sans',sans-serif;font-size:13px;font-weight:bold;fill:#fff">17</text>
</svg>
</body></html>
